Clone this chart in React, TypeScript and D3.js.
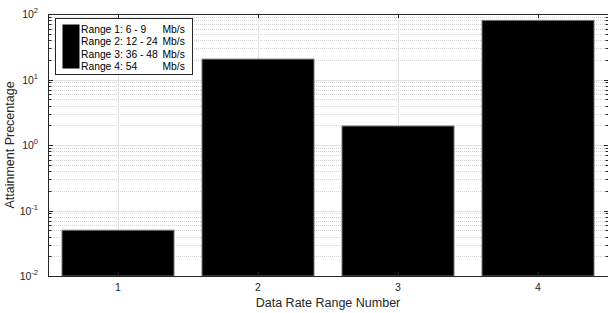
import { useEffect, useRef } from 'react'
import * as d3 from 'd3'

const categories = [1, 2, 3, 4]
const values = [0.05, 20.5, 1.95, 80]
const legendLabels = ['Range 1: 6 - 9', 'Range 2: 12 - 24', 'Range 3: 36 - 48', 'Range 4: 54']
const legendUnits = ['Mb/s', 'Mb/s', 'Mb/s', 'Mb/s']
const yDecades = [-2, -1, 0, 1, 2]

const W = 608
const H = 313

const App = () => {
  const ref = useRef<SVGSVGElement>(null)

  useEffect(() => {
    if (!ref.current) return
    const root = d3.select(ref.current)
    root.selectAll('*').remove()

    const margin = { top: 14, right: 0, bottom: 37, left: 48 }
    const width = W - margin.left - margin.right
    const height = H - margin.top - margin.bottom
    const axisColor = '#262626'
    const font = 'Liberation Sans, Arial, Helvetica, sans-serif'

    const g = root.append('g').attr('transform', `translate(${margin.left},${margin.top})`)

    const x = d3.scaleLinear().domain([0.5, 4.5]).range([0, width])
    const y = d3.scaleLog().domain([0.01, 100]).range([height, 0])

    // 次要格線 (dotted)
    const minor: number[] = []
    yDecades.slice(0, -1).forEach(e => {
      for (let k = 2; k <= 9; k++) minor.push(k * Math.pow(10, e))
    })
    g.append('g')
      .selectAll('line')
      .data(minor)
      .enter()
      .append('line')
      .attr('x1', 0)
      .attr('x2', width)
      .attr('y1', d => Math.round(y(d)) + 0.5)
      .attr('y2', d => Math.round(y(d)) + 0.5)
      .attr('stroke', '#d4d4d4')
      .attr('stroke-dasharray', '1,1')

    // 主要格線
    g.append('g')
      .selectAll('line')
      .data(yDecades.map(e => Math.pow(10, e)))
      .enter()
      .append('line')
      .attr('x1', 0)
      .attr('x2', width)
      .attr('y1', d => Math.round(y(d)) + 0.5)
      .attr('y2', d => Math.round(y(d)) + 0.5)
      .attr('stroke', '#e2e2e2')

    g.append('g')
      .selectAll('line')
      .data(categories)
      .enter()
      .append('line')
      .attr('x1', d => Math.round(x(d)) + 0.5)
      .attr('x2', d => Math.round(x(d)) + 0.5)
      .attr('y1', 0)
      .attr('y2', height)
      .attr('stroke', '#e2e2e2')

    // 長條
    const bw = x(0.4) - x(0)
    g.append('g')
      .selectAll('rect')
      .data(categories)
      .enter()
      .append('rect')
      .attr('x', d => x(d) - bw)
      .attr('y', (d, i) => y(values[i]))
      .attr('width', bw * 2)
      .attr('height', (d, i) => height - y(values[i]))
      .attr('fill', '#000')
      .attr('stroke', '#777')
      .attr('stroke-width', 1)

    // 外框
    g.append('rect')
      .attr('x', 0.5)
      .attr('y', 0.5)
      .attr('width', width)
      .attr('height', height)
      .attr('fill', 'none')
      .attr('stroke', axisColor)
      .attr('stroke-width', 1)

    // 刻度 (左右)
    const tickLen = 4
    const minorLen = 2.5
    const ticks = g.append('g').attr('stroke', axisColor)
    yDecades.forEach(e => {
      const yy = Math.round(y(Math.pow(10, e))) + 0.5
      ticks.append('line').attr('x1', 0).attr('x2', tickLen + 1).attr('y1', yy).attr('y2', yy)
      ticks.append('line').attr('x1', width).attr('x2', width - tickLen).attr('y1', yy).attr('y2', yy)
    })
    minor.forEach(v => {
      const yy = Math.round(y(v)) + 0.5
      ticks.append('line').attr('x1', 0).attr('x2', minorLen + 1).attr('y1', yy).attr('y2', yy)
      ticks.append('line').attr('x1', width).attr('x2', width - minorLen).attr('y1', yy).attr('y2', yy)
    })
    categories.forEach(c => {
      const xx = Math.round(x(c)) + 0.5
      ticks.append('line').attr('x1', xx).attr('x2', xx).attr('y1', height).attr('y2', height - tickLen)
      ticks.append('line').attr('x1', xx).attr('x2', xx).attr('y1', 0).attr('y2', tickLen)
    })

    // 刻度標籤
    g.append('g')
      .selectAll('text')
      .data(categories)
      .enter()
      .append('text')
      .attr('x', d => x(d))
      .attr('y', height + 15)
      .attr('text-anchor', 'middle')
      .style('font-family', font)
      .style('font-size', '10.5px')
      .style('fill', axisColor)
      .text(d => d)

    yDecades.forEach(e => {
      const t = g.append('text')
        .attr('x', -10)
        .attr('y', y(Math.pow(10, e)) + 4)
        .attr('text-anchor', 'end')
        .style('font-family', font)
        .style('font-size', '10.5px')
        .style('fill', axisColor)
      t.append('tspan').text('10')
      t.append('tspan')
        .attr('dy', -5)
        .style('font-size', '7.5px')
        .text(String(e))
    })

    // 軸標題
    g.append('text')
      .attr('x', width / 2)
      .attr('y', height + 31)
      .attr('text-anchor', 'middle')
      .style('font-family', font)
      .style('font-size', '12.5px')
      .style('fill', axisColor)
      .text('Data Rate Range Number')

    g.append('text')
      .attr('transform', `translate(${-34},${height / 2}) rotate(-90)`)
      .attr('text-anchor', 'middle')
      .style('font-family', font)
      .style('font-size', '12.5px')
      .style('fill', axisColor)
      .text('Attainment Precentage')

    // 圖例
    const lg = g.append('g').attr('transform', 'translate(7.5,4.5)')
    lg.append('rect')
      .attr('width', 137)
      .attr('height', 56)
      .attr('fill', '#fff')
      .attr('stroke', axisColor)
    lg.append('rect')
      .attr('x', 7)
      .attr('y', 6)
      .attr('width', 17)
      .attr('height', 44)
      .attr('fill', '#000')
    legendLabels.forEach((l, i) => {
      lg.append('text')
        .attr('x', 25.5)
        .attr('y', 14 + i * 12.5)
        .style('font-family', font)
        .style('font-size', '10.3px')
        .style('fill', '#000')
        .text(l)
      lg.append('text')
        .attr('x', 107)
        .attr('y', 14 + i * 12.5)
        .style('font-family', font)
        .style('font-size', '10.3px')
        .style('fill', '#000')
        .text(legendUnits[i])
    })
  }, [])

  return (
    <svg
      ref={ref}
      width={W}
      height={H}
      style={{ position: 'absolute', left: 0, top: 0, background: '#fff' }}
    />
  )
}

export default App
